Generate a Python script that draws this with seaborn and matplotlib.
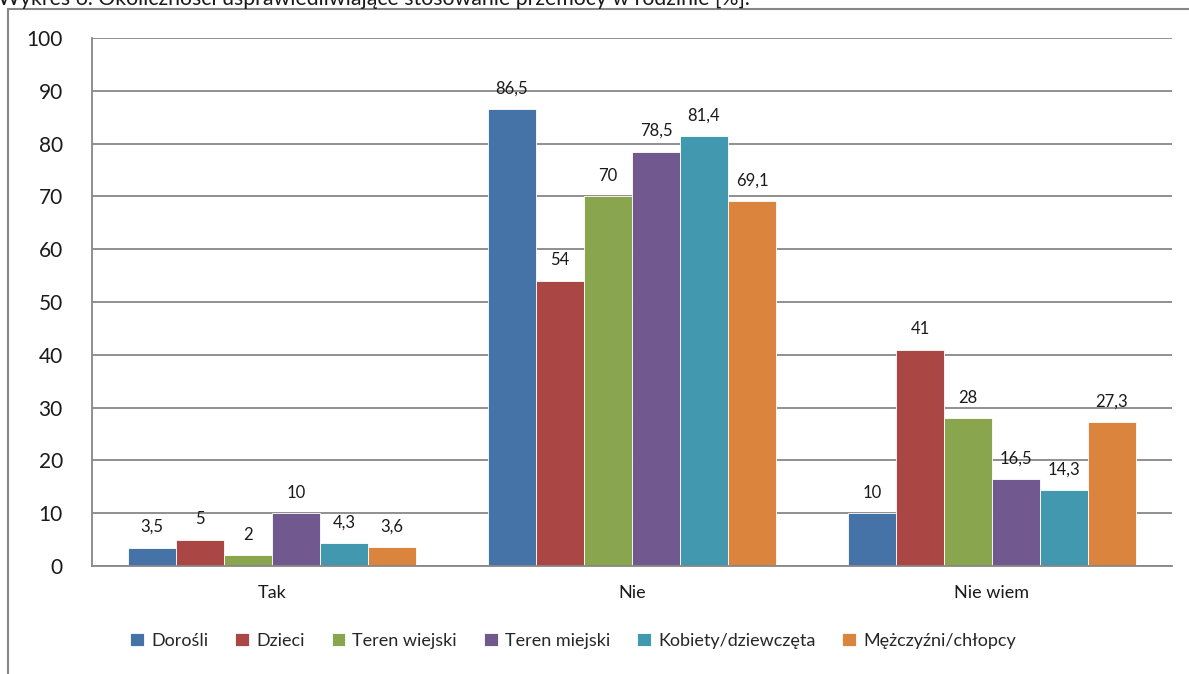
import pandas as pd
import seaborn as sns
import matplotlib.pyplot as plt
from matplotlib.patches import Rectangle

# dane z wykresu [%]
kategorie = ["Tak", "Nie", "Nie wiem"]
grupy = ["Dorośli", "Dzieci", "Teren wiejski", "Teren miejski",
         "Kobiety/dziewczęta", "Mężczyźni/chłopcy"]
tak = [3.5, 5, 2, 10, 4.3, 3.6]
nie = [86.5, 54, 70, 78.5, 81.4, 69.1]
nie_wiem = [10, 41, 28, 16.5, 14.3, 27.3]
kolory = ["#4572A7", "#AA4643", "#89A54E", "#71588F", "#4198AF", "#DB843D"]

rows = []
for kat, vals in zip(kategorie, [tak, nie, nie_wiem]):
    for g, v in zip(grupy, vals):
        rows.append({"kategoria": kat, "grupa": g, "wartosc": v})
df = pd.DataFrame(rows)

sns.set_style("white")
plt.rcParams["font.family"] = ["Lato", "DejaVu Sans"]

fig = plt.figure(figsize=(11.89, 6.74), dpi=100)
ax = fig.add_axes([92 / 1189, 1 - 566 / 674, (1172 - 92) / 1189, (566 - 38) / 674])

sns.barplot(data=df, x="kategoria", y="wartosc", hue="grupa", order=kategorie,
            hue_order=grupy, palette=kolory, saturation=1, width=0.8,
            edgecolor="white", linewidth=0.6, ax=ax)

for cont in ax.containers:
    ax.bar_label(cont, labels=[f"{v:g}".replace(".", ",") for v in cont.datavalues],
                 padding=9, fontsize=12, color="#1a1a1a")

szary = "#878787"
ax.set_ylim(0, 100)
ax.set_xlim(-0.5, 2.5)
ax.set_yticks(range(0, 101, 10))
ax.yaxis.grid(True, color=szary, linewidth=1.3)
ax.set_axisbelow(True)
ax.set_xlabel("")
ax.set_ylabel("")
for s in ["top", "right"]:
    ax.spines[s].set_visible(False)
for s in ["left", "bottom"]:
    ax.spines[s].set_color(szary)
    ax.spines[s].set_linewidth(1.3)
ax.tick_params(axis="y", length=5, color=szary, width=1.3, labelsize=15, pad=16,
               labelcolor="#1a1a1a")
ax.tick_params(axis="x", which="major", length=0, labelsize=13, pad=14,
               labelcolor="#1a1a1a")
ax.set_xticks([-0.5, 0.5, 1.5, 2.5], minor=True)
ax.tick_params(axis="x", which="minor", length=5, color=szary, width=1.3)

h, l = ax.get_legend_handles_labels()
ax.legend_.remove()
fig.legend(h, l, loc="center", bbox_to_anchor=(0.482, 1 - 641 / 674), ncol=6,
           frameon=False, fontsize=13, handlelength=0.75, handleheight=0.75,
           handletextpad=0.4, columnspacing=1.5)

# ramka obszaru wykresu (ucięta przez kadr)
fig.patches.append(Rectangle((8 / 1189, -0.2), 1.2, 1 - 9 / 674 + 0.2,
                             transform=fig.transFigure, fill=False,
                             edgecolor=szary, linewidth=1.5))

fig.text(-0.002, 1 - 5 / 674,
         "Wykres 6. Okoliczności usprawiedliwiające stosowanie przemocy w rodzinie [%].",
         fontsize=15.3, va="baseline", ha="left", color="#1a1a1a")

fig.savefig("out.png", dpi=100)
